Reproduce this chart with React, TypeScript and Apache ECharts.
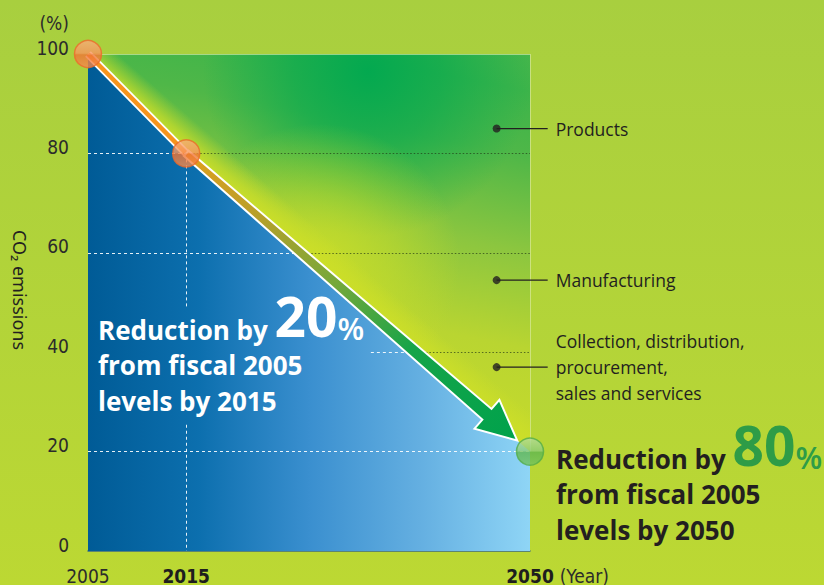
import React, { useEffect, useRef } from "react";
import * as echarts from "echarts";

// ---- data ----
const years = [2005, 2015, 2050];
const emissions = [100, 80, 20];
const xTickYears = [2005, 2015, 2050];
const yTickInterval = 20;
const gridLevels = [20, 40, 60, 80];
const segmentNames = [
  "Products",
  "Manufacturing",
  "Collection, distribution,\nprocurement,\nsales and services",
];
const segmentLevels = [85, 54.5, 37];
const segmentAnchorYear = 2046.6;
const segmentLabelYear = 2051.8;
// area kept free of guide lines behind the white caption (data units)
const captionBox = { x1: 2033.8, y0: 25.4, y1: 48.8 };
// anchors of the background shading (data units)
const shadeBaseFrom = [2044.9, 24.8];
const shadeBaseTo = [2052.4, 99.2];
const shadeBrightCenter = [2033.5, 96.5];
const shadeYellowCenter = [2028.6, 57.8];

const NARROW = '"Liberation Sans Narrow", "Arial Narrow", "DejaVu Sans Condensed", sans-serif';
const SANS = '"Open Sans", "Noto Sans", sans-serif';

function crossYear(level: number): number {
  for (let i = 0; i < years.length - 1; i++) {
    const a = emissions[i];
    const b = emissions[i + 1];
    if (a >= level && level >= b) {
      return years[i] + ((a - level) / (a - b)) * (years[i + 1] - years[i]);
    }
  }
  return years[years.length - 1];
}

function captionGraphics(x: number, y: number, big: string, color: string, accent: string, l2: string, l3: string) {
  const base = { fontSize: 26, fontWeight: "bold", fill: color, fontFamily: SANS };
  return [
    {
      type: "text",
      x,
      y,
      z: 20,
      style: {
        text: `{a|Reduction by }{b|${big}}{c|%}`,
        verticalAlign: "top",
        rich: {
          a: { ...base, lineHeight: 26, verticalAlign: "bottom" },
          b: { fontSize: 55, fontWeight: "bold", fill: accent, fontFamily: SANS, lineHeight: 41, verticalAlign: "bottom" },
          c: { fontSize: 31, fontWeight: 600, fill: accent, fontFamily: SANS, lineHeight: 28.5, verticalAlign: "bottom" },
        },
      },
    },
    { type: "text", x, y: y + 50, z: 20, style: { ...base, text: l2, verticalAlign: "top" } },
    { type: "text", x, y: y + 86, z: 20, style: { ...base, text: l3, verticalAlign: "top" } },
  ];
}

const hidden = { width: 0, opacity: 0 };

export default function App() {
  const ref = useRef<HTMLDivElement>(null);

  useEffect(() => {
    document.body.style.margin = "0";
    const chart = echarts.init(ref.current!, null, { renderer: "svg" });
    const xMin = years[0];
    const xMax = years[years.length - 1];
    const yMax = emissions[0];

    const white = { color: "rgba(255,255,255,0.9)", type: [3, 3], width: 1 };
    const dark = { color: "rgba(30,50,20,0.65)", type: [1.5, 2], width: 1 };
    const markData: any[] = [];
    gridLevels.forEach((lv) => {
      const cx = crossYear(lv);
      const start = lv >= captionBox.y0 && lv <= captionBox.y1 ? captionBox.x1 : xMin;
      if (cx > start) {
        markData.push([{ coord: [start, lv], lineStyle: white }, { coord: [cx, lv] }]);
      }
      if (cx < xMax - 0.01) {
        markData.push([{ coord: [cx, lv], lineStyle: dark }, { coord: [xMax, lv] }]);
      }
    });
    markData.push([{ coord: [years[1], emissions[1]], lineStyle: white }, { coord: [years[1], captionBox.y1] }]);
    markData.push([{ coord: [years[1], captionBox.y0], lineStyle: white }, { coord: [years[1], 0] }]);
    markData.push([
      { coord: [xMin, yMax], lineStyle: { color: "rgba(230,240,180,0.6)", type: "solid", width: 1 } },
      { coord: [xMax, yMax] },
    ]);
    markData.push([
      { coord: [xMax, yMax], lineStyle: { color: "rgba(255,255,255,0.35)", type: "solid", width: 1 } },
      { coord: [xMax, emissions[emissions.length - 1]] },
    ]);

    const orangeBall = new echarts.graphic.LinearGradient(0, 0, 0, 1, [
      { offset: 0, color: "#f9ad7a" },
      { offset: 0.47, color: "#f7955c" },
      { offset: 0.53, color: "#ef7434" },
      { offset: 1, color: "#f58b4e" },
    ]);
    const greenBall = new echarts.graphic.LinearGradient(0, 0, 0, 1, [
      { offset: 0, color: "#b3dc9c" },
      { offset: 0.47, color: "#8ccc78" },
      { offset: 0.53, color: "#5fb64f" },
      { offset: 1, color: "#71c25e" },
    ]);

    const staticGraphics: any[] = [
      {
        type: "text",
        x: 20,
        y: 290,
        rotation: -Math.PI / 2,
        style: {
          text: "CO₂ emissions",
          fill: "#231f20",
          fontSize: 18,
          fontFamily: '"Noto Sans", sans-serif',
          align: "center",
          verticalAlign: "middle",
        },
      },
      ...captionGraphics(98, 302, "20", "#ffffff", "#ffffff", "from fiscal 2005", "levels by 2015"),
      ...captionGraphics(556, 431, "80", "#231f20", "#2e9c47", "from fiscal 2005", "levels by 2050"),
    ];

    const rect = [
      [xMin, yMax],
      [xMax, yMax],
    ];
    const shadeLayer = (z: number) => ({
      type: "line",
      z,
      silent: true,
      symbol: "none",
      lineStyle: hidden,
      areaStyle: { opacity: 1, color: "rgba(0,0,0,0)" },
      data: rect,
    });

    const option: any = {
      animation: false,
      backgroundColor: new echarts.graphic.LinearGradient(0, 0, 0, 1, [
        { offset: 0, color: "#a8cf3f" },
        { offset: 1, color: "#bcd833" },
      ]),
      grid: { left: 88, right: 294, top: 54, bottom: 31 },
      xAxis: {
        type: "value",
        min: xMin,
        max: xMax,
        name: "(Year)",
        nameLocation: "end",
        nameGap: 24,
        nameTextStyle: {
          align: "left",
          verticalAlign: "top",
          padding: [15, 0, 0, 0],
          fontSize: 19,
          color: "#2b2b2b",
          fontFamily: NARROW,
        },
        axisLine: { show: true, lineStyle: { color: "#3d6a86", width: 1.5 } },
        axisTick: { show: false },
        splitLine: { show: false },
        axisLabel: {
          customValues: xTickYears,
          margin: 15,
          formatter: (v: number) => (v === xMin ? `{n|${v}}` : `{b|${v}}`),
          rich: {
            n: { fontSize: 19, color: "#2b2b2b", fontFamily: NARROW },
            b: { fontSize: 19, fontWeight: "bold", color: "#1e1e1e", fontFamily: NARROW },
          },
        },
      },
      yAxis: {
        type: "value",
        min: 0,
        max: yMax,
        interval: yTickInterval,
        name: "(%)",
        nameLocation: "end",
        nameGap: 22,
        nameTextStyle: {
          align: "right",
          verticalAlign: "bottom",
          padding: [0, 19, 0, 0],
          fontSize: 19,
          color: "#2b2b2b",
          fontFamily: NARROW,
        },
        axisLine: { show: false },
        axisTick: { show: false },
        splitLine: { show: false },
        axisLabel: {
          margin: 19,
          fontSize: 19,
          color: "#2b2b2b",
          fontFamily: NARROW,
          verticalAlign: "bottom",
          lineHeight: 13,
        },
      },
      graphic: staticGraphics,
      series: [
        shadeLayer(1),
        shadeLayer(1),
        shadeLayer(1),
        shadeLayer(1),
        {
          type: "line",
          z: 2,
          silent: true,
          symbol: "none",
          lineStyle: hidden,
          areaStyle: {
            opacity: 1,
            color: new echarts.graphic.LinearGradient(0, 0, 1, 0, [
              { offset: 0, color: "#005b96" },
              { offset: 0.25, color: "#0c6fae" },
              { offset: 0.5, color: "#3a8fcf" },
              { offset: 0.75, color: "#64afe1" },
              { offset: 1, color: "#8fd5f6" },
            ]),
          },
          markLine: {
            silent: true,
            symbol: ["none", "none"],
            label: { show: false },
            data: markData,
          },
          data: years.map((y, i) => [y, emissions[i]]),
        },
        {
          type: "line",
          z: 3,
          silent: true,
          symbol: "none",
          lineStyle: { color: "#ffffff", width: 8 },
          data: years.slice(0, 2).map((y, i) => [y, emissions[i]]),
        },
        {
          type: "line",
          z: 4,
          silent: true,
          symbol: "none",
          lineStyle: { color: "#f7941d", width: 4.5 },
          data: years.slice(0, 2).map((y, i) => [y, emissions[i]]),
        },
        {
          type: "custom",
          z: 5,
          silent: true,
          clip: false,
          encode: { x: [0, 2], y: [1, 3] },
          data: [[years[1], emissions[1], years[2], emissions[2]]],
          renderItem: (params: any, api: any) => {
            const a = api.coord([api.value(0), api.value(1)]);
            const b = api.coord([api.value(2), api.value(3)]);
            const dx = b[0] - a[0];
            const dy = b[1] - a[1];
            const len = Math.hypot(dx, dy);
            const ux = dx / len;
            const uy = dy / len;
            const nx = -uy;
            const ny = ux;
            const tipBack = 17;
            const headLen = 40;
            const headHalf = 19;
            const w0 = 3.5;
            const w1 = 7;
            const tip = [b[0] - ux * tipBack, b[1] - uy * tipBack];
            const base = [tip[0] - ux * headLen, tip[1] - uy * headLen];
            const pts = [
              [a[0] + nx * w0, a[1] + ny * w0],
              [base[0] + nx * w1, base[1] + ny * w1],
              [base[0] + nx * headHalf, base[1] + ny * headHalf],
              tip,
              [base[0] - nx * headHalf, base[1] - ny * headHalf],
              [base[0] - nx * w1, base[1] - ny * w1],
              [a[0] - nx * w0, a[1] - ny * w0],
            ];
            return {
              type: "polygon",
              shape: { points: pts },
              style: {
                fill: new echarts.graphic.LinearGradient(
                  a[0], a[1], tip[0], tip[1],
                  [
                    { offset: 0, color: "#e09f1c" },
                    { offset: 0.2, color: "#bb9f2a" },
                    { offset: 0.45, color: "#76a83a" },
                    { offset: 0.68, color: "#16a449" },
                    { offset: 1, color: "#00a24c" },
                  ],
                  true
                ),
                stroke: "#ffffff",
                lineWidth: 2,
              },
            };
          },
        },
        {
          type: "scatter",
          z: 6,
          silent: true,
          symbolSize: 27,
          itemStyle: { color: orangeBall, borderColor: "#ee6a2a", borderWidth: 1.5 },
          data: years.slice(0, 2).map((y, i) => [y, emissions[i]]),
        },
        {
          type: "scatter",
          z: 6,
          silent: true,
          symbolSize: 27,
          itemStyle: { color: greenBall, borderColor: "#52ad48", borderWidth: 1.5 },
          data: [[years[2], emissions[2]]],
        },
        {
          type: "scatter",
          z: 7,
          silent: true,
          symbolSize: 8,
          itemStyle: { color: "#231f20" },
          data: segmentLevels.map((lv) => [segmentAnchorYear, lv]),
        },
      ],
    };

    chart.setOption(option);

    const px = (v: number[]) => chart.convertToPixel({ gridIndex: 0 }, v) as number[];

    // shading, anchored through the axis scales
    const bA = px(shadeBaseFrom);
    const bB = px(shadeBaseTo);
    const bright = px(shadeBrightCenter);
    const yel = px(shadeYellowCenter);
    const s1 = px([years[1], emissions[1]]);
    const s2 = px([years[2], emissions[2]]);
    const corner = px([xMax, yMax]);
    const sdx = s2[0] - s1[0];
    const sdy = s2[1] - s1[1];
    const sl = Math.hypot(sdx, sdy);
    const proj = ((corner[0] - s1[0]) * sdx + (corner[1] - s1[1]) * sdy) / sl;
    const foot = [s1[0] + (sdx / sl) * proj, s1[1] + (sdy / sl) * proj];

    const shadeColors = [
      new echarts.graphic.LinearGradient(bA[0], bA[1], bB[0], bB[1], [
        { offset: 0, color: "#c4da2c" },
        { offset: 0.23, color: "#b9d531" },
        { offset: 0.48, color: "#8cc63f" },
        { offset: 0.73, color: "#4fb748" },
        { offset: 0.9, color: "#3db44a" },
        { offset: 1, color: "#46b64b" },
      ], true),
      new echarts.graphic.RadialGradient(bright[0], bright[1], 165, [
        { offset: 0, color: "rgba(0,168,80,0.95)" },
        { offset: 0.45, color: "rgba(0,168,80,0.6)" },
        { offset: 1, color: "rgba(0,168,80,0)" },
      ], true),
      new echarts.graphic.RadialGradient(yel[0], yel[1], 140, [
        { offset: 0, color: "rgba(203,222,40,0.9)" },
        { offset: 0.5, color: "rgba(203,222,40,0.5)" },
        { offset: 1, color: "rgba(203,222,40,0)" },
      ], true),
      new echarts.graphic.LinearGradient(foot[0], foot[1], corner[0], corner[1], [
        { offset: 0, color: "rgba(205,223,40,1)" },
        { offset: 0.04, color: "rgba(205,223,40,0.7)" },
        { offset: 0.1, color: "rgba(205,223,40,0)" },
        { offset: 1, color: "rgba(205,223,40,0)" },
      ], true),
    ];

    // leader lines and segment labels, placed through the axis scales
    const annotations: any[] = [];
    segmentNames.forEach((name, i) => {
      const p = px([segmentAnchorYear, segmentLevels[i]]);
      const q = px([segmentLabelYear, segmentLevels[i]]);
      annotations.push({
        type: "line",
        z: 8,
        shape: { x1: p[0], y1: p[1], x2: q[0], y2: q[1] },
        style: { stroke: "#231f20", lineWidth: 1.2 },
      });
      annotations.push({
        type: "text",
        x: q[0] + 8,
        y: q[1],
        z: 8,
        style: {
          text: name,
          fill: "#231f20",
          fontSize: 17.5,
          lineHeight: 26,
          fontFamily: SANS,
          align: "left",
          verticalAlign: "middle",
        },
      });
    });

    chart.setOption({
      graphic: [...staticGraphics, ...annotations],
      series: shadeColors.map((c) => ({ areaStyle: { opacity: 1, color: c } })),
    });

    return () => chart.dispose();
  }, []);

  return <div ref={ref} style={{ width: 824, height: 585 }} />;
}
